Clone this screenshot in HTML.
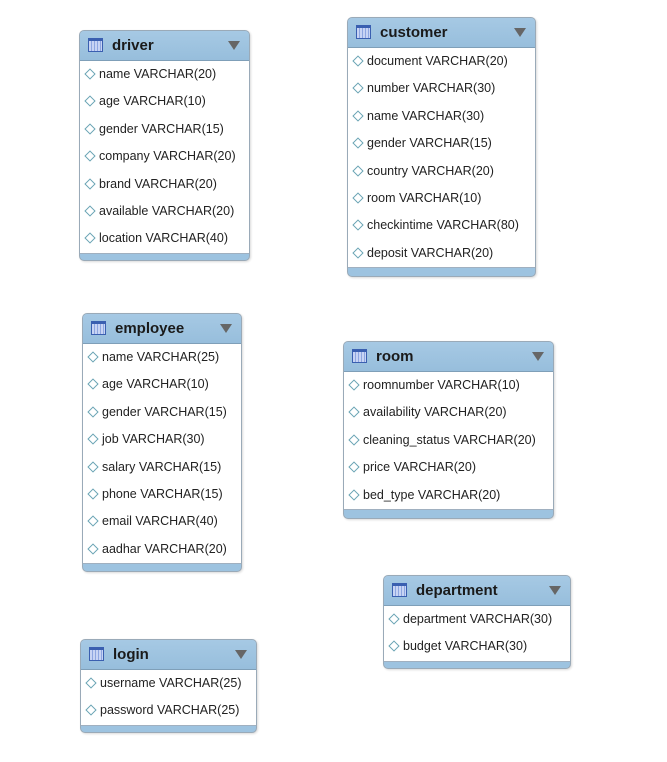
<!DOCTYPE html><html><head><style>
body{margin:0;width:667px;height:762px;background:#fff;position:relative;font-family:"Liberation Sans",sans-serif;overflow:hidden}
.t{position:absolute;box-sizing:border-box;border:1px solid #9aaab8;border-radius:5px;background:#9dc3e0;box-shadow:1px 1px 2px rgba(0,0,0,.15);overflow:hidden}
.h{height:29px;position:relative;background:linear-gradient(#a6c9e4,#97bedc);border-bottom:1px solid #7f9fb8}
.h b{position:absolute;left:32px;top:6px;font-size:15px;color:#1a1a1a}
.ic{position:absolute;left:8px;top:7px;width:15px;height:14px;border:1px solid #3a5fb0;background:repeating-linear-gradient(90deg,#c8d4f4 0 2px,#8ea6e0 2px 3px);box-sizing:border-box;border-top:3px solid #3a5fb0}
.ar{position:absolute;right:9px;top:10px;width:0;height:0;border-left:6px solid transparent;border-right:6px solid transparent;border-top:9px solid #666}
.b{background:#fff;border-bottom:1px solid #a0b0c0}
.r{height:27.4px;line-height:27px;font-size:12.5px;color:#222;padding-left:19px;position:relative;white-space:nowrap}
.r:before{content:"";position:absolute;left:6px;top:9px;width:6px;height:6px;border:1px solid #6aa4b4;transform:rotate(45deg);background:#fff}
</style></head><body>

<div class="t" style="left:79px;top:30px;width:171px;height:231px"><div class="h"><span class="ic"></span><b>driver</b><span class="ar"></span></div><div class="b">
<div class="r">name VARCHAR(20)</div><div class="r">age VARCHAR(10)</div><div class="r">gender VARCHAR(15)</div><div class="r">company VARCHAR(20)</div><div class="r">brand VARCHAR(20)</div><div class="r">available VARCHAR(20)</div><div class="r">location VARCHAR(40)</div></div></div>

<div class="t" style="left:347px;top:17px;width:189px;height:260px"><div class="h"><span class="ic"></span><b>customer</b><span class="ar"></span></div><div class="b">
<div class="r">document VARCHAR(20)</div><div class="r">number VARCHAR(30)</div><div class="r">name VARCHAR(30)</div><div class="r">gender VARCHAR(15)</div><div class="r">country VARCHAR(20)</div><div class="r">room VARCHAR(10)</div><div class="r">checkintime VARCHAR(80)</div><div class="r">deposit VARCHAR(20)</div></div></div>

<div class="t" style="left:82px;top:313px;width:160px;height:259px"><div class="h"><span class="ic"></span><b>employee</b><span class="ar"></span></div><div class="b">
<div class="r">name VARCHAR(25)</div><div class="r">age VARCHAR(10)</div><div class="r">gender VARCHAR(15)</div><div class="r">job VARCHAR(30)</div><div class="r">salary VARCHAR(15)</div><div class="r">phone VARCHAR(15)</div><div class="r">email VARCHAR(40)</div><div class="r">aadhar VARCHAR(20)</div></div></div>

<div class="t" style="left:343px;top:341px;width:211px;height:178px"><div class="h"><span class="ic"></span><b>room</b><span class="ar"></span></div><div class="b">
<div class="r">roomnumber VARCHAR(10)</div><div class="r">availability VARCHAR(20)</div><div class="r">cleaning_status VARCHAR(20)</div><div class="r">price VARCHAR(20)</div><div class="r">bed_type VARCHAR(20)</div></div></div>

<div class="t" style="left:383px;top:575px;width:188px;height:94px"><div class="h"><span class="ic"></span><b>department</b><span class="ar"></span></div><div class="b">
<div class="r">department VARCHAR(30)</div><div class="r">budget VARCHAR(30)</div></div></div>

<div class="t" style="left:80px;top:639px;width:177px;height:94px"><div class="h"><span class="ic"></span><b>login</b><span class="ar"></span></div><div class="b">
<div class="r">username VARCHAR(25)</div><div class="r">password VARCHAR(25)</div></div></div>

</body></html>
